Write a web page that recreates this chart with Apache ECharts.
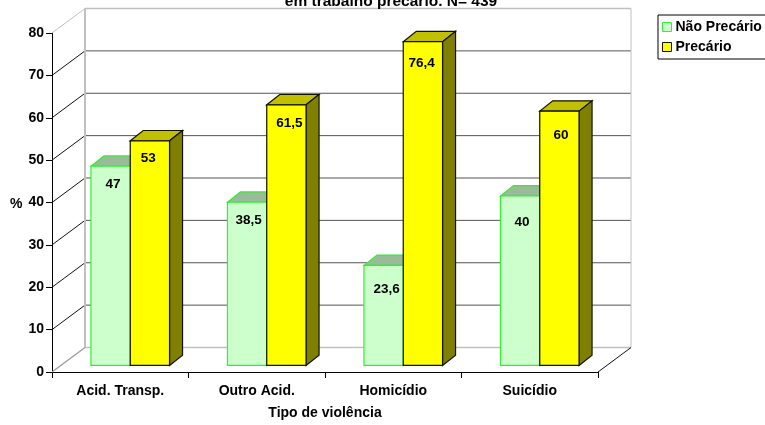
<!DOCTYPE html>
<html>
<head>
<meta charset="utf-8">
<style>html,body{margin:0;padding:0;background:#fff;overflow:hidden}#chart{width:765px;height:425px}</style>
<script src="https://cdn.jsdelivr.net/npm/echarts@6/dist/echarts.min.js"></script>
</head>
<body>
<div id="chart"></div>
<script>
const categories = ['Acid. Transp.', 'Outro Acid.', 'Homicídio', 'Suicídio'];
const naoPrecario = [47, 38.5, 23.6, 40];
const precario = [53, 61.5, 76.4, 60];
const naoPrecarioLabels = ['47', '38,5', '23,6', '40'];
const precarioLabels = ['53', '61,5', '76,4', '60'];
const wallTicks = [10, 20, 30, 40, 50, 60, 70];

const FONT = '"Liberation Sans", Arial, sans-serif';
const DEPTH_X = 33, DEPTH_Y = 24.5;      // wall depth of the pseudo-3D box
const BAR_DX = 10, BAR_DY = 6.6;         // bars stand this far into the box
const BAR_W = 39.3, BAR_DEPTH_X = 13, BAR_DEPTH_Y = 10.3;

// Where each value label sits relative to its column: [shift from centre, drop below top]
const greenLabelPlace = [[2.5, 18], [1.5, 18], [3, 24], [2, 26]];
const yellowLabelPlace = [[-1.7, 17.5], [3, 18], [-1.3, 22], [1.5, 24]];

const chart = echarts.init(document.getElementById('chart'), null, { renderer: 'canvas' });

function line(x1, y1, x2, y2, stroke, width) {
  return { type: 'line', shape: { x1, y1, x2, y2 }, style: { stroke, lineWidth: width }, silent: true };
}

// Box walls: back wall outline, side and floor edges, and one grid line per tick.
function renderWalls(params, api) {
  if (params.dataIndex !== 0) return null;
  const c = params.coordSys;
  const left = c.x, right = c.x + c.width;
  const y0 = api.coord([0, 0])[1], yTop = api.coord([0, 80])[1];
  const kids = [];
  wallTicks.forEach(function (t) {
    const y = api.coord([0, t])[1];
    kids.push(line(left, y, left + DEPTH_X, y - DEPTH_Y, '#111', 1));
    kids.push(line(left + DEPTH_X, y - DEPTH_Y, right + DEPTH_X, y - DEPTH_Y, '#555', 1));
  });
  const silver = '#c0c0c0';
  kids.push(line(left, yTop, left + DEPTH_X, yTop - DEPTH_Y, silver, 1));
  kids.push(line(left + DEPTH_X, yTop - DEPTH_Y, right + DEPTH_X, yTop - DEPTH_Y, silver, 1.5));
  kids.push(line(left + DEPTH_X, yTop - DEPTH_Y, left + DEPTH_X, y0 - DEPTH_Y, silver, 2));
  kids.push(line(right + DEPTH_X, yTop - DEPTH_Y, right + DEPTH_X, y0 - DEPTH_Y, silver, 1));
  kids.push(line(left + DEPTH_X, y0 - DEPTH_Y, right + DEPTH_X, y0 - DEPTH_Y, silver, 1.5));
  kids.push(line(left, y0, left + DEPTH_X, y0 - DEPTH_Y, '#a0a0a0', 1.5));
  kids.push(line(right, y0, right + DEPTH_X, y0 - DEPTH_Y, '#111', 1));
  return { type: 'group', children: kids };
}

// One pseudo-3D column: front face, top and side faces, plus its value label inside.
function barRenderer(values, labels, places, side, colors) {
  return function (params, api) {
    const i = params.dataIndex;
    const p = api.coord([i, values[i]]);
    const b = api.coord([i, 0]);
    const mid = p[0] + BAR_DX;
    const x0 = side < 0 ? mid - BAR_W : mid;
    const x1 = x0 + BAR_W;
    const top = p[1] - BAR_DY, bottom = b[1] - BAR_DY;
    const st = function (fill) {
      return { fill, stroke: colors.edge, lineWidth: 1.2 };
    };
    return {
      type: 'group',
      children: [
        { type: 'polygon', shape: { points: [[x0, top], [x0 + BAR_DEPTH_X, top - BAR_DEPTH_Y], [x1 + BAR_DEPTH_X, top - BAR_DEPTH_Y], [x1, top]] }, style: st(colors.top) },
        { type: 'polygon', shape: { points: [[x1, top], [x1 + BAR_DEPTH_X, top - BAR_DEPTH_Y], [x1 + BAR_DEPTH_X, bottom - BAR_DEPTH_Y], [x1, bottom]] }, style: st(colors.side) },
        { type: 'rect', shape: { x: x0, y: top, width: BAR_W, height: bottom - top }, style: st(colors.front) },
        { type: 'text', style: { x: (x0 + x1) / 2 + places[i][0], y: top + places[i][1], text: labels[i], font: 'bold 13.5px ' + FONT, fill: '#000', align: 'center', verticalAlign: 'middle' } }
      ]
    };
  };
}

const greenBars = { front: '#ccffcc', top: '#99bb99', side: '#669966', edge: '#33ee33' };
const yellowBars = { front: '#ffff00', top: '#c0c000', side: '#808000', edge: '#111100' };

chart.setOption({
  animation: false,
  backgroundColor: '#fff',
  textStyle: { fontFamily: FONT },
  title: {
    text: 'em trabalho precário. N= 439',
    left: 386, top: -11, textAlign: 'center',
    textStyle: { fontFamily: FONT, fontSize: 15.5, fontWeight: 'bold', color: '#000' }
  },
  legend: {
    orient: 'vertical', left: 658, top: 15, padding: [5, 12, 5, 4], itemGap: 6,
    itemWidth: 9, itemHeight: 9, icon: 'rect',
    backgroundColor: '#fff', borderColor: '#000', borderWidth: 1, borderRadius: 0,
    selectedMode: false,
    textStyle: { fontFamily: FONT, fontSize: 14, fontWeight: 'bold', color: '#000', padding: [0, 0, 0, -1], lineHeight: 14 },
    data: [
      { name: 'Não Precário', itemStyle: { color: greenBars.front, borderColor: greenBars.edge, borderWidth: 1 } },
      { name: 'Precário', itemStyle: { color: yellowBars.front, borderColor: '#111100', borderWidth: 1 } }
    ]
  },
  grid: { left: 52, right: 167, top: 33, bottom: 49, containLabel: false },
  xAxis: {
    type: 'category', data: categories,
    name: 'Tipo de violência', nameLocation: 'middle', nameGap: 34,
    nameTextStyle: { fontFamily: FONT, fontSize: 14, fontWeight: 'bold', color: '#000' },
    axisLine: { lineStyle: { color: '#000', width: 1 } },
    axisTick: { show: true, alignWithLabel: false, interval: 0, length: 6, lineStyle: { color: '#000' } },
    axisLabel: { fontFamily: FONT, fontSize: 14, fontWeight: 'bold', color: '#000', margin: 12 }
  },
  yAxis: {
    type: 'value', min: 0, max: 80, interval: 10,
    splitLine: { show: false },
    axisLine: { show: true, lineStyle: { color: '#000', width: 1 } },
    axisTick: { show: true, length: 6, lineStyle: { color: '#000' } },
    axisLabel: { fontFamily: FONT, fontSize: 14, fontWeight: 'bold', color: '#000', margin: 8 }
  },
  graphic: [{
    type: 'text', left: 10, top: 197,
    style: { text: '%', font: 'bold 14px ' + FONT, fill: '#000' }
  }],
  series: [
    { type: 'custom', name: 'walls', renderItem: renderWalls, data: [0], silent: true, z: 1, clip: false, legendHoverLink: false },
    {
      type: 'custom', name: 'Não Precário', z: 2, clip: false,
      itemStyle: { color: greenBars.front },
      renderItem: barRenderer(naoPrecario, naoPrecarioLabels, greenLabelPlace, -1, greenBars),
      encode: { x: 0, y: 1 },
      data: naoPrecario.map(function (v, i) { return [i, v]; })
    },
    {
      type: 'custom', name: 'Precário', z: 3, clip: false,
      itemStyle: { color: yellowBars.front },
      renderItem: barRenderer(precario, precarioLabels, yellowLabelPlace, 1, yellowBars),
      encode: { x: 0, y: 1 },
      data: precario.map(function (v, i) { return [i, v]; })
    }
  ]
});
</script>
</body>
</html>
